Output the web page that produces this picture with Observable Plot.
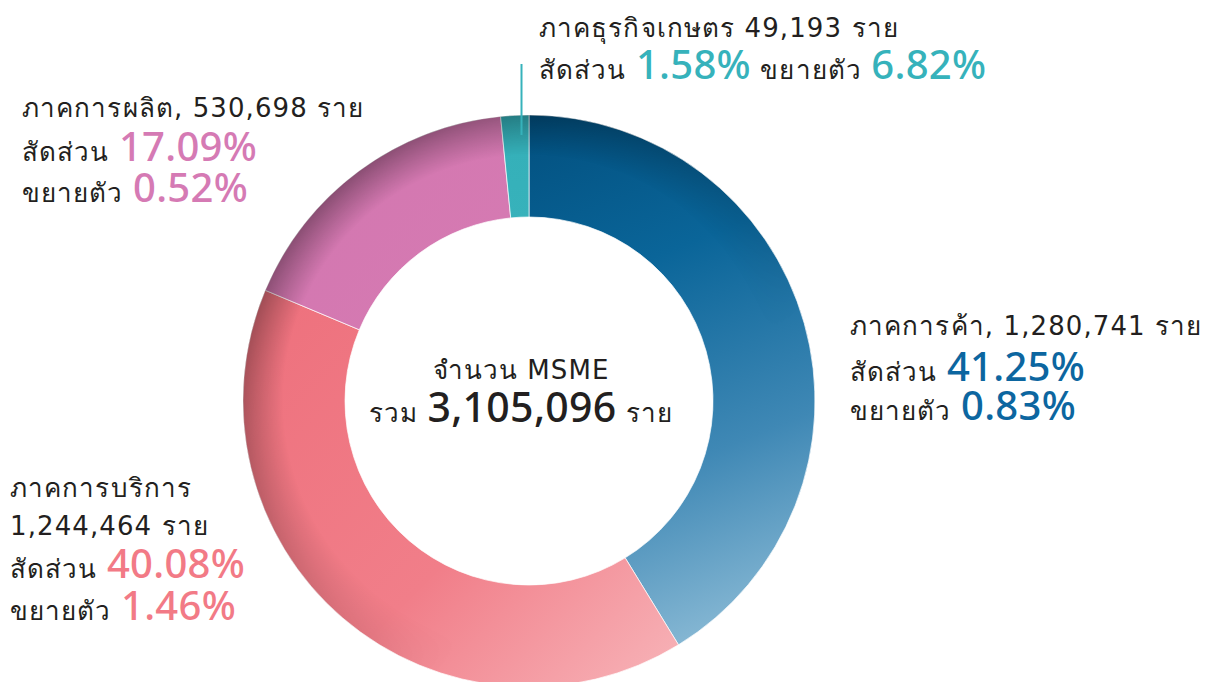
<!DOCTYPE html>
<html><head><meta charset="utf-8">
<script src="https://cdn.jsdelivr.net/npm/d3@7"></script>
<script src="https://cdn.jsdelivr.net/npm/@observablehq/plot@0.6"></script>
<style>
body{margin:0;background:#fff;overflow:hidden;}
#chart svg{display:block;}
</style>
</head><body><div id="chart"></div>
<script>
// ---- data ----
const sectors = ["ภาคการค้า", "ภาคการบริการ", "ภาคการผลิต", "ภาคธุรกิจเกษตร"];
const counts = [1280741, 1244464, 530698, 49193];
const shares = [41.25, 40.08, 17.09, 1.58];
const growth = [0.83, 1.46, 0.52, 6.82];
const totalCount = 3105096;
const totalLabel = "จำนวน MSME";
const shareWord = "สัดส่วน";
const growthWord = "ขยายตัว";
const unitWord = "ราย";
const sumWord = "รวม";

// ---- styles ----
const W = 1219, H = 682;
const CX = 529, CY = 401, R_OUT = 286, R_IN = 184;
const textColors = ["#0c66a0", "#f27a86", "#d57ab4", "#36b2bb"];
const ink = "#231f20";
const FONT = "'DejaVu Sans', 'Noto Sans', sans-serif";
const NUMFONT = "'Noto Sans', 'DejaVu Sans', sans-serif";
const fmt = d3.format(",");
const pct = v => v.toFixed(2) + "%";

const gradStops = [
  [[0, "#02507f"], [0.3, "#0a6599"], [0.65, "#3f88b5"], [1, "#93c0d9"]],
  [[0, "#ee727e"], [0.55, "#f17e89"], [1, "#f7b1b6"]],
  [[0, "#d377b0"], [1, "#d67bb3"]],
  [[0, "#34afb8"], [1, "#37b2bb"]]
];
const gradVec = [
  [20, -290, 230, 250],
  [-250, -80, 120, 290],
  [-200, -250, 0, -80],
  [0, -290, 0, -180]
];

function donutMark(index, scales, values, dimensions) {
  const g = d3.create("svg:g");
  const defs = g.append("defs");
  gradStops.forEach((stops, i) => {
    const lg = defs.append("linearGradient").attr("id", "sg" + i)
      .attr("gradientUnits", "userSpaceOnUse")
      .attr("x1", gradVec[i][0]).attr("y1", gradVec[i][1])
      .attr("x2", gradVec[i][2]).attr("y2", gradVec[i][3]);
    stops.forEach(([o, c]) => lg.append("stop").attr("offset", o).attr("stop-color", c));
  });
  // rim shading
  const rg = defs.append("radialGradient").attr("id", "rim")
    .attr("gradientUnits", "userSpaceOnUse").attr("cx", 0).attr("cy", 0).attr("r", R_OUT);
  rg.append("stop").attr("offset", 0.86).attr("stop-color", "#000").attr("stop-opacity", 0);
  rg.append("stop").attr("offset", 1).attr("stop-color", "#000").attr("stop-opacity", 0.38);
  const mg = defs.append("linearGradient").attr("id", "rimMaskGrad")
    .attr("gradientUnits", "userSpaceOnUse")
    .attr("x1", -200).attr("y1", -260).attr("x2", 120).attr("y2", 60);
  mg.append("stop").attr("offset", 0).attr("stop-color", "#fff");
  mg.append("stop").attr("offset", 1).attr("stop-color", "#000");
  defs.append("mask").attr("id", "rimMask")
    .append("rect").attr("x", -R_OUT).attr("y", -R_OUT).attr("width", 2 * R_OUT).attr("height", 2 * R_OUT)
    .attr("fill", "url(#rimMaskGrad)");

  const pie = d3.pie().sort(null).value(d => d)(counts);
  const arc = d3.arc().innerRadius(R_IN).outerRadius(R_OUT);
  const cg = g.append("g").attr("transform", `translate(${CX},${CY})`);
  cg.selectAll("path.slice").data(pie).join("path")
    .attr("class", "slice")
    .attr("d", arc)
    .attr("fill", (d, i) => `url(#sg${i})`)
    .attr("stroke", "#fff").attr("stroke-width", 0.7);
  cg.append("path")
    .attr("d", d3.arc().innerRadius(R_IN).outerRadius(R_OUT).startAngle(0).endAngle(2 * Math.PI)())
    .attr("fill", "url(#rim)").attr("mask", "url(#rimMask)");

  // leader line for the small agriculture slice
  const a = pie[3];
  const mid = (a.startAngle + a.endAngle) / 2;
  const lx = Math.round(CX + R_IN * Math.sin(mid) + 1) + 0.5;
  g.append("line").attr("x1", lx).attr("x2", lx).attr("y1", 64).attr("y2", CY - R_OUT + 20)
    .attr("stroke", textColors[3]).attr("stroke-width", 2);
  return g.node();
}

function line(t, x, y, parts, anchor = "start") {
  const tx = t.append("text").attr("x", x).attr("y", y).attr("text-anchor", anchor);
  parts.forEach(([s, kind, color]) => {
    const sp = tx.append("tspan").attr("fill", color).text(s);
    if (kind === "big") sp.attr("font-family", NUMFONT).attr("font-size", 40).attr("font-weight", 500).attr("letter-spacing", 0.3);
    else if (kind === "total") sp.attr("font-family", NUMFONT).attr("font-size", 41).attr("font-weight", 500).attr("letter-spacing", 0.3);
    else sp.attr("font-size", 26).attr("letter-spacing", 1.1);
  });
}

function labelMark() {
  const t = d3.create("svg:g").attr("font-family", FONT);
  const S = "s", B = "big";
  // agriculture
  line(t, 539, 37, [[`${sectors[3]} ${fmt(counts[3])} ${unitWord}`, S, ink]]);
  line(t, 539, 79, [[shareWord + " ", S, ink], [pct(shares[3]), B, textColors[3]], [" " + growthWord + " ", S, ink], [pct(growth[3]), B, textColors[3]]]);
  // manufacturing
  line(t, 22, 117, [[`${sectors[2]}, ${fmt(counts[2])} ${unitWord}`, S, ink]]);
  line(t, 22, 161, [[shareWord + " ", S, ink], [pct(shares[2]), B, textColors[2]]]);
  line(t, 22, 202, [[growthWord + " ", S, ink], [pct(growth[2]), B, textColors[2]]]);
  // trade
  line(t, 850, 335, [[`${sectors[0]}, ${fmt(counts[0])} ${unitWord}`, S, ink]]);
  line(t, 850, 381, [[shareWord + " ", S, ink], [pct(shares[0]), B, textColors[0]]]);
  line(t, 850, 420, [[growthWord + " ", S, ink], [pct(growth[0]), B, textColors[0]]]);
  // services
  line(t, 10, 497, [[sectors[1], S, ink]]);
  line(t, 10, 535, [[`${fmt(counts[1])} ${unitWord}`, S, ink]]);
  line(t, 10, 578, [[shareWord + " ", S, ink], [pct(shares[1]), B, textColors[1]]]);
  line(t, 10, 620, [[growthWord + " ", S, ink], [pct(growth[1]), B, textColors[1]]]);
  // centre
  line(t, 521, 379, [[totalLabel, S, ink]], "middle");
  line(t, 521, 422, [[sumWord + " ", S, ink], [fmt(totalCount), "total", ink], [" " + unitWord, S, ink]], "middle");
  return t.node();
}

const chart = Plot.plot({
  width: W, height: H, margin: 0,
  style: {background: "#fff", overflow: "hidden"},
  marks: [donutMark, labelMark]
});
document.getElementById("chart").appendChild(chart);
</script>
</body></html>
